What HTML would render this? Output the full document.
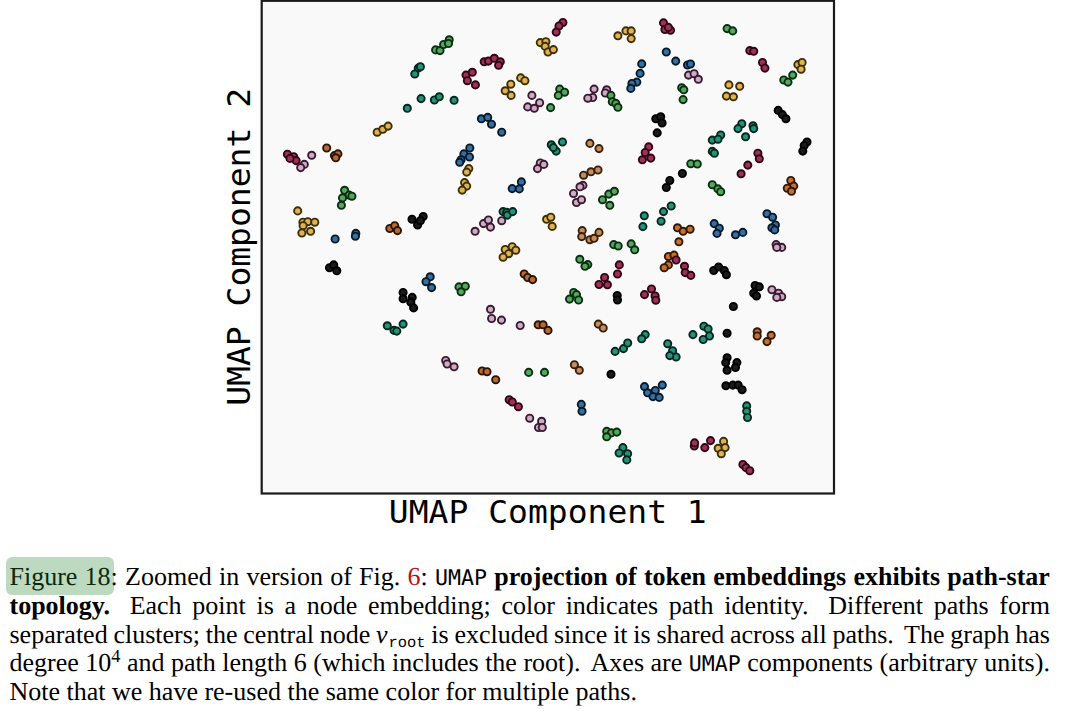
<!DOCTYPE html>
<html><head><meta charset="utf-8"><title>Figure 18</title>
<style>
html,body{margin:0;padding:0;background:#fff;}
body{width:1080px;height:713px;overflow:hidden;position:relative;}
#plot{position:absolute;left:0;top:0;}
.ax{font-family:"DejaVu Sans Mono",monospace;font-size:32px;fill:#000;}
#cap{text-rendering:geometricPrecision;position:absolute;left:9.5px;top:563.05px;width:1040.4px;font-family:"Liberation Serif","Times New Roman",serif;font-size:26px;line-height:28.75px;color:#000;}
#cap .ln{white-space:nowrap;text-align:justify;text-align-last:justify;height:28.75px;}
#cap .ln.last{text-align-last:left;}
#hlbox{position:absolute;left:6.4px;top:557.2px;width:107.3px;height:37.8px;border-radius:6px;background:rgba(38,128,45,0.3);}
.tt{font-family:"DejaVu Sans Mono",monospace;font-size:21.6px;}
.red{color:#b0151b;}
.xs{display:inline-block;width:5px;}
b{font-weight:bold;}
.mv{font-style:italic;font-family:"Liberation Serif",serif;}
sub{font-size:0.7em;vertical-align:-0.25em;line-height:0;}
sub.tt{font-family:"Liberation Mono",monospace;font-size:15.4px;vertical-align:-4.4px;margin-left:1px;}
sup{font-size:0.7em;vertical-align:0.5em;line-height:0;}
</style></head><body>
<svg id="plot" width="1080" height="545" viewBox="0 0 1080 545">
<rect x="261.7" y="0.8" width="572.3" height="492.7" fill="#f9f9f9" stroke="#1a1a1a" stroke-width="2.2"/>
<g stroke-width="1.9">
<circle cx="435.6" cy="49.9" r="3.6" fill="#58a462" stroke="#08300f"/>
<circle cx="440.0" cy="50.6" r="3.6" fill="#58a462" stroke="#08300f"/>
<circle cx="443.6" cy="44.5" r="3.6" fill="#58a462" stroke="#08300f"/>
<circle cx="449.2" cy="39.8" r="3.6" fill="#58a462" stroke="#08300f"/>
<circle cx="448.5" cy="43.5" r="3.6" fill="#58a462" stroke="#08300f"/>
<circle cx="418.3" cy="68.1" r="3.6" fill="#26927a" stroke="#04281c"/>
<circle cx="420.4" cy="66.7" r="3.6" fill="#26927a" stroke="#04281c"/>
<circle cx="414.8" cy="74.0" r="3.6" fill="#26927a" stroke="#04281c"/>
<circle cx="484.2" cy="61.8" r="3.6" fill="#9c3259" stroke="#300612"/>
<circle cx="488.4" cy="61.1" r="3.6" fill="#9c3259" stroke="#300612"/>
<circle cx="494.3" cy="58.3" r="3.6" fill="#9c3259" stroke="#300612"/>
<circle cx="500.3" cy="61.8" r="3.6" fill="#9c3259" stroke="#300612"/>
<circle cx="498.6" cy="65.3" r="3.6" fill="#9c3259" stroke="#300612"/>
<circle cx="466.0" cy="75.1" r="3.6" fill="#9c3259" stroke="#300612"/>
<circle cx="472.3" cy="72.3" r="3.6" fill="#9c3259" stroke="#300612"/>
<circle cx="467.4" cy="80.7" r="3.6" fill="#9c3259" stroke="#300612"/>
<circle cx="475.4" cy="84.9" r="3.6" fill="#9c3259" stroke="#300612"/>
<circle cx="540.3" cy="42.6" r="3.6" fill="#deb352" stroke="#3e2e06"/>
<circle cx="545.9" cy="41.7" r="3.6" fill="#deb352" stroke="#3e2e06"/>
<circle cx="545.2" cy="46.4" r="3.6" fill="#deb352" stroke="#3e2e06"/>
<circle cx="548.0" cy="52.0" r="3.6" fill="#deb352" stroke="#3e2e06"/>
<circle cx="553.4" cy="49.6" r="3.6" fill="#deb352" stroke="#3e2e06"/>
<circle cx="520.7" cy="77.9" r="3.6" fill="#deb352" stroke="#3e2e06"/>
<circle cx="524.9" cy="80.7" r="3.6" fill="#deb352" stroke="#3e2e06"/>
<circle cx="510.8" cy="84.2" r="3.6" fill="#deb352" stroke="#3e2e06"/>
<circle cx="505.2" cy="90.8" r="3.6" fill="#deb352" stroke="#3e2e06"/>
<circle cx="511.1" cy="95.4" r="3.6" fill="#deb352" stroke="#3e2e06"/>
<circle cx="531.9" cy="95.4" r="3.6" fill="#cdacc2" stroke="#3a1a32"/>
<circle cx="421.1" cy="98.6" r="3.6" fill="#26927a" stroke="#04281c"/>
<circle cx="434.4" cy="100.0" r="3.6" fill="#26927a" stroke="#04281c"/>
<circle cx="439.3" cy="96.8" r="3.6" fill="#26927a" stroke="#04281c"/>
<circle cx="454.1" cy="100.3" r="3.6" fill="#26927a" stroke="#04281c"/>
<circle cx="562.9" cy="22.5" r="3.6" fill="#9c3259" stroke="#300612"/>
<circle cx="559.0" cy="26.0" r="3.6" fill="#9c3259" stroke="#300612"/>
<circle cx="556.2" cy="32.1" r="3.6" fill="#9c3259" stroke="#300612"/>
<circle cx="617.9" cy="35.8" r="3.6" fill="#deb352" stroke="#3e2e06"/>
<circle cx="626.0" cy="30.9" r="3.6" fill="#deb352" stroke="#3e2e06"/>
<circle cx="631.2" cy="30.9" r="3.6" fill="#deb352" stroke="#3e2e06"/>
<circle cx="631.2" cy="38.6" r="3.6" fill="#deb352" stroke="#3e2e06"/>
<circle cx="663.5" cy="22.9" r="3.6" fill="#9c3259" stroke="#300612"/>
<circle cx="664.9" cy="29.5" r="3.6" fill="#9c3259" stroke="#300612"/>
<circle cx="670.5" cy="30.2" r="3.6" fill="#9c3259" stroke="#300612"/>
<circle cx="668.4" cy="27.4" r="3.6" fill="#9c3259" stroke="#300612"/>
<circle cx="666.3" cy="52.0" r="3.6" fill="#3470a2" stroke="#081a2a"/>
<circle cx="675.7" cy="61.1" r="3.6" fill="#3470a2" stroke="#081a2a"/>
<circle cx="641.7" cy="63.9" r="3.6" fill="#3470a2" stroke="#081a2a"/>
<circle cx="640.1" cy="73.4" r="3.6" fill="#3470a2" stroke="#081a2a"/>
<circle cx="636.8" cy="82.1" r="3.6" fill="#3470a2" stroke="#081a2a"/>
<circle cx="631.9" cy="83.5" r="3.6" fill="#3470a2" stroke="#081a2a"/>
<circle cx="630.8" cy="88.4" r="3.6" fill="#3470a2" stroke="#081a2a"/>
<circle cx="559.7" cy="89.1" r="3.6" fill="#58a462" stroke="#08300f"/>
<circle cx="564.6" cy="92.2" r="3.6" fill="#58a462" stroke="#08300f"/>
<circle cx="558.3" cy="95.4" r="3.6" fill="#58a462" stroke="#08300f"/>
<circle cx="594.1" cy="89.1" r="3.6" fill="#cdacc2" stroke="#3a1a32"/>
<circle cx="592.7" cy="97.5" r="3.6" fill="#cdacc2" stroke="#3a1a32"/>
<circle cx="587.8" cy="98.2" r="3.6" fill="#cdacc2" stroke="#3a1a32"/>
<circle cx="606.7" cy="89.8" r="3.6" fill="#cdacc2" stroke="#3a1a32"/>
<circle cx="605.3" cy="93.0" r="3.6" fill="#cdacc2" stroke="#3a1a32"/>
<circle cx="610.9" cy="95.4" r="3.6" fill="#58a462" stroke="#08300f"/>
<circle cx="612.3" cy="101.7" r="3.6" fill="#58a462" stroke="#08300f"/>
<circle cx="615.8" cy="103.4" r="3.6" fill="#58a462" stroke="#08300f"/>
<circle cx="617.9" cy="107.3" r="3.6" fill="#58a462" stroke="#08300f"/>
<circle cx="681.7" cy="87.7" r="3.6" fill="#58a462" stroke="#08300f"/>
<circle cx="683.8" cy="89.8" r="3.6" fill="#58a462" stroke="#08300f"/>
<circle cx="683.1" cy="99.6" r="3.6" fill="#58a462" stroke="#08300f"/>
<circle cx="727.1" cy="28.6" r="3.6" fill="#58a462" stroke="#08300f"/>
<circle cx="732.7" cy="30.9" r="3.6" fill="#58a462" stroke="#08300f"/>
<circle cx="749.8" cy="50.6" r="3.6" fill="#9c3259" stroke="#300612"/>
<circle cx="753.7" cy="51.3" r="3.6" fill="#9c3259" stroke="#300612"/>
<circle cx="762.5" cy="62.5" r="3.6" fill="#9c3259" stroke="#300612"/>
<circle cx="764.9" cy="68.1" r="3.6" fill="#9c3259" stroke="#300612"/>
<circle cx="797.9" cy="64.6" r="3.6" fill="#deb352" stroke="#3e2e06"/>
<circle cx="802.1" cy="62.5" r="3.6" fill="#deb352" stroke="#3e2e06"/>
<circle cx="801.1" cy="69.2" r="3.6" fill="#deb352" stroke="#3e2e06"/>
<circle cx="783.8" cy="80.0" r="3.6" fill="#58a462" stroke="#08300f"/>
<circle cx="788.0" cy="82.1" r="3.6" fill="#58a462" stroke="#08300f"/>
<circle cx="792.7" cy="75.1" r="3.6" fill="#58a462" stroke="#08300f"/>
<circle cx="728.9" cy="84.9" r="3.6" fill="#deb352" stroke="#3e2e06"/>
<circle cx="739.7" cy="86.3" r="3.6" fill="#deb352" stroke="#3e2e06"/>
<circle cx="726.4" cy="96.1" r="3.6" fill="#deb352" stroke="#3e2e06"/>
<circle cx="733.4" cy="96.8" r="3.6" fill="#deb352" stroke="#3e2e06"/>
<circle cx="687.5" cy="65.0" r="3.6" fill="#3470a2" stroke="#081a2a"/>
<circle cx="690.5" cy="64.0" r="3.6" fill="#3470a2" stroke="#081a2a"/>
<circle cx="688.5" cy="75.1" r="3.6" fill="#cdacc2" stroke="#3a1a32"/>
<circle cx="694.1" cy="73.7" r="3.6" fill="#cdacc2" stroke="#3a1a32"/>
<circle cx="698.3" cy="79.3" r="3.6" fill="#cdacc2" stroke="#3a1a32"/>
<circle cx="407.3" cy="108.3" r="3.6" fill="#26927a" stroke="#04281c"/>
<circle cx="377.2" cy="132.2" r="3.6" fill="#deb352" stroke="#3e2e06"/>
<circle cx="382.8" cy="129.3" r="3.6" fill="#deb352" stroke="#3e2e06"/>
<circle cx="388.1" cy="126.1" r="3.6" fill="#deb352" stroke="#3e2e06"/>
<circle cx="326.7" cy="148.0" r="3.6" fill="#b46c36" stroke="#2a1404"/>
<circle cx="334.4" cy="155.6" r="3.6" fill="#b46c36" stroke="#2a1404"/>
<circle cx="337.9" cy="153.9" r="3.6" fill="#b46c36" stroke="#2a1404"/>
<circle cx="335.8" cy="157.8" r="3.6" fill="#b46c36" stroke="#2a1404"/>
<circle cx="311.7" cy="155.3" r="3.6" fill="#cdacc2" stroke="#3a1a32"/>
<circle cx="287.4" cy="154.2" r="3.6" fill="#9c3259" stroke="#300612"/>
<circle cx="293.7" cy="156.7" r="3.6" fill="#9c3259" stroke="#300612"/>
<circle cx="296.1" cy="160.6" r="3.6" fill="#9c3259" stroke="#300612"/>
<circle cx="290.0" cy="158.4" r="3.6" fill="#9c3259" stroke="#300612"/>
<circle cx="304.3" cy="164.4" r="3.6" fill="#cdacc2" stroke="#3a1a32"/>
<circle cx="300.7" cy="167.6" r="3.6" fill="#cdacc2" stroke="#3a1a32"/>
<circle cx="539.6" cy="102.7" r="3.6" fill="#cdacc2" stroke="#3a1a32"/>
<circle cx="527.7" cy="106.9" r="3.6" fill="#cdacc2" stroke="#3a1a32"/>
<circle cx="534.3" cy="108.3" r="3.6" fill="#cdacc2" stroke="#3a1a32"/>
<circle cx="481.4" cy="118.8" r="3.6" fill="#3470a2" stroke="#081a2a"/>
<circle cx="487.7" cy="117.4" r="3.6" fill="#3470a2" stroke="#081a2a"/>
<circle cx="491.5" cy="124.2" r="3.6" fill="#3470a2" stroke="#081a2a"/>
<circle cx="501.7" cy="132.2" r="3.6" fill="#3470a2" stroke="#081a2a"/>
<circle cx="469.8" cy="148.0" r="3.6" fill="#3470a2" stroke="#081a2a"/>
<circle cx="463.9" cy="153.9" r="3.6" fill="#3470a2" stroke="#081a2a"/>
<circle cx="469.5" cy="157.0" r="3.6" fill="#3470a2" stroke="#081a2a"/>
<circle cx="461.1" cy="159.8" r="3.6" fill="#3470a2" stroke="#081a2a"/>
<circle cx="459.7" cy="162.3" r="3.6" fill="#3470a2" stroke="#081a2a"/>
<circle cx="468.8" cy="168.6" r="3.6" fill="#deb352" stroke="#3e2e06"/>
<circle cx="466.7" cy="172.1" r="3.6" fill="#deb352" stroke="#3e2e06"/>
<circle cx="464.6" cy="182.6" r="3.6" fill="#deb352" stroke="#3e2e06"/>
<circle cx="466.7" cy="186.1" r="3.6" fill="#deb352" stroke="#3e2e06"/>
<circle cx="462.2" cy="190.1" r="3.6" fill="#deb352" stroke="#3e2e06"/>
<circle cx="521.4" cy="181.9" r="3.6" fill="#3470a2" stroke="#081a2a"/>
<circle cx="512.2" cy="188.6" r="3.6" fill="#3470a2" stroke="#081a2a"/>
<circle cx="519.3" cy="188.9" r="3.6" fill="#3470a2" stroke="#081a2a"/>
<circle cx="540.3" cy="163.0" r="3.6" fill="#cdacc2" stroke="#3a1a32"/>
<circle cx="543.8" cy="164.4" r="3.6" fill="#cdacc2" stroke="#3a1a32"/>
<circle cx="537.5" cy="168.6" r="3.6" fill="#cdacc2" stroke="#3a1a32"/>
<circle cx="550.6" cy="107.6" r="3.6" fill="#58a462" stroke="#08300f"/>
<circle cx="655.8" cy="118.8" r="3.6" fill="#1a1a1a" stroke="#000000"/>
<circle cx="660.7" cy="116.7" r="3.6" fill="#1a1a1a" stroke="#000000"/>
<circle cx="662.1" cy="123.0" r="3.6" fill="#1a1a1a" stroke="#000000"/>
<circle cx="657.2" cy="132.9" r="3.6" fill="#1a1a1a" stroke="#000000"/>
<circle cx="551.3" cy="144.8" r="3.6" fill="#26927a" stroke="#04281c"/>
<circle cx="556.2" cy="151.1" r="3.6" fill="#26927a" stroke="#04281c"/>
<circle cx="562.5" cy="142.0" r="3.6" fill="#26927a" stroke="#04281c"/>
<circle cx="553.4" cy="147.6" r="3.6" fill="#26927a" stroke="#04281c"/>
<circle cx="589.9" cy="143.4" r="3.6" fill="#c48e60" stroke="#3a200a"/>
<circle cx="599.0" cy="148.6" r="3.6" fill="#c48e60" stroke="#3a200a"/>
<circle cx="648.7" cy="146.9" r="3.6" fill="#9c3259" stroke="#300612"/>
<circle cx="645.2" cy="152.5" r="3.6" fill="#9c3259" stroke="#300612"/>
<circle cx="650.8" cy="158.1" r="3.6" fill="#9c3259" stroke="#300612"/>
<circle cx="642.4" cy="159.8" r="3.6" fill="#9c3259" stroke="#300612"/>
<circle cx="583.6" cy="175.2" r="3.6" fill="#c48e60" stroke="#3a200a"/>
<circle cx="591.0" cy="171.8" r="3.6" fill="#c48e60" stroke="#3a200a"/>
<circle cx="598.0" cy="170.0" r="3.6" fill="#c48e60" stroke="#3a200a"/>
<circle cx="582.9" cy="185.4" r="3.6" fill="#cdacc2" stroke="#3a1a32"/>
<circle cx="580.0" cy="186.8" r="3.6" fill="#cdacc2" stroke="#3a1a32"/>
<circle cx="573.5" cy="193.5" r="3.6" fill="#cdacc2" stroke="#3a1a32"/>
<circle cx="576.5" cy="202.5" r="3.6" fill="#cdacc2" stroke="#3a1a32"/>
<circle cx="581.5" cy="199.7" r="3.6" fill="#cdacc2" stroke="#3a1a32"/>
<circle cx="690.8" cy="163.7" r="3.6" fill="#58a462" stroke="#08300f"/>
<circle cx="697.3" cy="164.0" r="3.6" fill="#58a462" stroke="#08300f"/>
<circle cx="682.4" cy="173.5" r="3.6" fill="#1a1a1a" stroke="#000000"/>
<circle cx="669.8" cy="180.5" r="3.6" fill="#1a1a1a" stroke="#000000"/>
<circle cx="666.3" cy="187.5" r="3.6" fill="#1a1a1a" stroke="#000000"/>
<circle cx="778.2" cy="110.4" r="3.6" fill="#1a1a1a" stroke="#000000"/>
<circle cx="782.4" cy="114.6" r="3.6" fill="#1a1a1a" stroke="#000000"/>
<circle cx="785.9" cy="118.8" r="3.6" fill="#1a1a1a" stroke="#000000"/>
<circle cx="807.0" cy="142.0" r="3.6" fill="#1a1a1a" stroke="#000000"/>
<circle cx="804.2" cy="145.5" r="3.6" fill="#1a1a1a" stroke="#000000"/>
<circle cx="802.8" cy="151.1" r="3.6" fill="#1a1a1a" stroke="#000000"/>
<circle cx="741.8" cy="123.7" r="3.6" fill="#26927a" stroke="#04281c"/>
<circle cx="738.0" cy="128.6" r="3.6" fill="#26927a" stroke="#04281c"/>
<circle cx="753.0" cy="125.8" r="3.6" fill="#26927a" stroke="#04281c"/>
<circle cx="753.7" cy="128.6" r="3.6" fill="#26927a" stroke="#04281c"/>
<circle cx="745.6" cy="136.8" r="3.6" fill="#26927a" stroke="#04281c"/>
<circle cx="720.7" cy="135.0" r="3.6" fill="#26927a" stroke="#04281c"/>
<circle cx="712.3" cy="140.1" r="3.6" fill="#26927a" stroke="#04281c"/>
<circle cx="718.0" cy="139.2" r="3.6" fill="#26927a" stroke="#04281c"/>
<circle cx="712.3" cy="151.4" r="3.6" fill="#26927a" stroke="#04281c"/>
<circle cx="714.4" cy="153.2" r="3.6" fill="#26927a" stroke="#04281c"/>
<circle cx="757.9" cy="153.2" r="3.6" fill="#9c3259" stroke="#300612"/>
<circle cx="759.3" cy="158.8" r="3.6" fill="#9c3259" stroke="#300612"/>
<circle cx="747.8" cy="165.1" r="3.6" fill="#9c3259" stroke="#300612"/>
<circle cx="741.1" cy="173.8" r="3.6" fill="#9c3259" stroke="#300612"/>
<circle cx="790.8" cy="180.5" r="3.6" fill="#c47232" stroke="#351804"/>
<circle cx="793.7" cy="186.1" r="3.6" fill="#c47232" stroke="#351804"/>
<circle cx="787.3" cy="188.2" r="3.6" fill="#c47232" stroke="#351804"/>
<circle cx="791.5" cy="191.3" r="3.6" fill="#c47232" stroke="#351804"/>
<circle cx="712.3" cy="184.7" r="3.6" fill="#58a462" stroke="#08300f"/>
<circle cx="717.9" cy="188.9" r="3.6" fill="#58a462" stroke="#08300f"/>
<circle cx="720.7" cy="191.7" r="3.6" fill="#58a462" stroke="#08300f"/>
<circle cx="344.6" cy="190.3" r="3.6" fill="#58a462" stroke="#08300f"/>
<circle cx="349.1" cy="195.1" r="3.6" fill="#58a462" stroke="#08300f"/>
<circle cx="351.9" cy="196.2" r="3.6" fill="#58a462" stroke="#08300f"/>
<circle cx="342.5" cy="197.9" r="3.6" fill="#58a462" stroke="#08300f"/>
<circle cx="341.4" cy="205.3" r="3.6" fill="#58a462" stroke="#08300f"/>
<circle cx="297.7" cy="210.9" r="3.6" fill="#deb352" stroke="#3e2e06"/>
<circle cx="302.9" cy="222.2" r="3.6" fill="#deb352" stroke="#3e2e06"/>
<circle cx="307.8" cy="221.7" r="3.6" fill="#deb352" stroke="#3e2e06"/>
<circle cx="314.8" cy="222.2" r="3.6" fill="#deb352" stroke="#3e2e06"/>
<circle cx="303.1" cy="225.7" r="3.6" fill="#deb352" stroke="#3e2e06"/>
<circle cx="301.9" cy="233.0" r="3.6" fill="#deb352" stroke="#3e2e06"/>
<circle cx="310.6" cy="231.3" r="3.6" fill="#deb352" stroke="#3e2e06"/>
<circle cx="335.1" cy="239.0" r="3.6" fill="#3470a2" stroke="#081a2a"/>
<circle cx="355.8" cy="233.4" r="3.6" fill="#3470a2" stroke="#081a2a"/>
<circle cx="355.4" cy="236.2" r="3.6" fill="#3470a2" stroke="#081a2a"/>
<circle cx="389.8" cy="228.5" r="3.6" fill="#b46c36" stroke="#2a1404"/>
<circle cx="394.7" cy="225.7" r="3.6" fill="#b46c36" stroke="#2a1404"/>
<circle cx="397.5" cy="230.6" r="3.6" fill="#b46c36" stroke="#2a1404"/>
<circle cx="329.5" cy="267.7" r="3.6" fill="#1a1a1a" stroke="#000000"/>
<circle cx="333.7" cy="264.9" r="3.6" fill="#1a1a1a" stroke="#000000"/>
<circle cx="336.8" cy="270.8" r="3.6" fill="#1a1a1a" stroke="#000000"/>
<circle cx="412.0" cy="219.3" r="3.6" fill="#1a1a1a" stroke="#000000"/>
<circle cx="417.6" cy="225.0" r="3.6" fill="#1a1a1a" stroke="#000000"/>
<circle cx="423.2" cy="216.5" r="3.6" fill="#1a1a1a" stroke="#000000"/>
<circle cx="420.4" cy="220.7" r="3.6" fill="#1a1a1a" stroke="#000000"/>
<circle cx="475.1" cy="231.3" r="3.6" fill="#cdacc2" stroke="#3a1a32"/>
<circle cx="483.5" cy="223.6" r="3.6" fill="#cdacc2" stroke="#3a1a32"/>
<circle cx="488.4" cy="220.0" r="3.6" fill="#cdacc2" stroke="#3a1a32"/>
<circle cx="490.5" cy="227.1" r="3.6" fill="#cdacc2" stroke="#3a1a32"/>
<circle cx="501.7" cy="220.7" r="3.6" fill="#cdacc2" stroke="#3a1a32"/>
<circle cx="503.1" cy="211.6" r="3.6" fill="#26927a" stroke="#04281c"/>
<circle cx="506.6" cy="212.3" r="3.6" fill="#26927a" stroke="#04281c"/>
<circle cx="507.3" cy="215.1" r="3.6" fill="#26927a" stroke="#04281c"/>
<circle cx="512.7" cy="211.6" r="3.6" fill="#26927a" stroke="#04281c"/>
<circle cx="546.6" cy="219.3" r="3.6" fill="#deb352" stroke="#3e2e06"/>
<circle cx="550.8" cy="217.2" r="3.6" fill="#deb352" stroke="#3e2e06"/>
<circle cx="552.2" cy="226.4" r="3.6" fill="#deb352" stroke="#3e2e06"/>
<circle cx="505.2" cy="249.5" r="3.6" fill="#deb352" stroke="#3e2e06"/>
<circle cx="512.2" cy="246.7" r="3.6" fill="#deb352" stroke="#3e2e06"/>
<circle cx="515.8" cy="250.2" r="3.6" fill="#deb352" stroke="#3e2e06"/>
<circle cx="508.7" cy="253.7" r="3.6" fill="#deb352" stroke="#3e2e06"/>
<circle cx="503.1" cy="257.2" r="3.6" fill="#deb352" stroke="#3e2e06"/>
<circle cx="524.2" cy="274.0" r="3.6" fill="#b46c36" stroke="#2a1404"/>
<circle cx="527.7" cy="277.5" r="3.6" fill="#b46c36" stroke="#2a1404"/>
<circle cx="532.6" cy="279.6" r="3.6" fill="#b46c36" stroke="#2a1404"/>
<circle cx="430.2" cy="276.8" r="3.6" fill="#3470a2" stroke="#081a2a"/>
<circle cx="426.0" cy="281.7" r="3.6" fill="#3470a2" stroke="#081a2a"/>
<circle cx="431.6" cy="287.6" r="3.6" fill="#3470a2" stroke="#081a2a"/>
<circle cx="608.8" cy="194.1" r="3.6" fill="#58a462" stroke="#08300f"/>
<circle cx="614.4" cy="191.3" r="3.6" fill="#58a462" stroke="#08300f"/>
<circle cx="602.5" cy="199.7" r="3.6" fill="#58a462" stroke="#08300f"/>
<circle cx="609.8" cy="205.3" r="3.6" fill="#58a462" stroke="#08300f"/>
<circle cx="582.2" cy="230.6" r="3.6" fill="#c48e60" stroke="#3a200a"/>
<circle cx="581.7" cy="236.6" r="3.6" fill="#c48e60" stroke="#3a200a"/>
<circle cx="589.9" cy="239.7" r="3.6" fill="#c48e60" stroke="#3a200a"/>
<circle cx="594.1" cy="238.3" r="3.6" fill="#c48e60" stroke="#3a200a"/>
<circle cx="599.0" cy="232.4" r="3.6" fill="#c48e60" stroke="#3a200a"/>
<circle cx="644.3" cy="215.8" r="3.6" fill="#26927a" stroke="#04281c"/>
<circle cx="642.9" cy="226.6" r="3.6" fill="#26927a" stroke="#04281c"/>
<circle cx="663.5" cy="211.6" r="3.6" fill="#26927a" stroke="#04281c"/>
<circle cx="671.2" cy="206.0" r="3.6" fill="#26927a" stroke="#04281c"/>
<circle cx="661.1" cy="221.2" r="3.6" fill="#26927a" stroke="#04281c"/>
<circle cx="677.5" cy="227.8" r="3.6" fill="#c47232" stroke="#351804"/>
<circle cx="683.1" cy="231.3" r="3.6" fill="#c47232" stroke="#351804"/>
<circle cx="690.1" cy="229.2" r="3.6" fill="#c47232" stroke="#351804"/>
<circle cx="678.9" cy="241.8" r="3.6" fill="#c47232" stroke="#351804"/>
<circle cx="613.7" cy="244.6" r="3.6" fill="#58a462" stroke="#08300f"/>
<circle cx="618.2" cy="246.0" r="3.6" fill="#58a462" stroke="#08300f"/>
<circle cx="631.2" cy="243.9" r="3.6" fill="#58a462" stroke="#08300f"/>
<circle cx="634.7" cy="249.8" r="3.6" fill="#58a462" stroke="#08300f"/>
<circle cx="579.8" cy="259.3" r="3.6" fill="#58a462" stroke="#08300f"/>
<circle cx="587.8" cy="264.6" r="3.6" fill="#58a462" stroke="#08300f"/>
<circle cx="585.0" cy="266.3" r="3.6" fill="#58a462" stroke="#08300f"/>
<circle cx="619.3" cy="264.9" r="3.6" fill="#9c3259" stroke="#300612"/>
<circle cx="617.5" cy="274.0" r="3.6" fill="#9c3259" stroke="#300612"/>
<circle cx="604.6" cy="277.5" r="3.6" fill="#9c3259" stroke="#300612"/>
<circle cx="607.4" cy="284.8" r="3.6" fill="#9c3259" stroke="#300612"/>
<circle cx="599.0" cy="284.5" r="3.6" fill="#9c3259" stroke="#300612"/>
<circle cx="668.4" cy="256.5" r="3.6" fill="#c47232" stroke="#351804"/>
<circle cx="674.0" cy="255.1" r="3.6" fill="#c47232" stroke="#351804"/>
<circle cx="676.1" cy="260.0" r="3.6" fill="#9c3259" stroke="#300612"/>
<circle cx="668.4" cy="264.9" r="3.6" fill="#c47232" stroke="#351804"/>
<circle cx="664.2" cy="267.7" r="3.6" fill="#c47232" stroke="#351804"/>
<circle cx="684.5" cy="266.3" r="3.6" fill="#9c3259" stroke="#300612"/>
<circle cx="685.2" cy="272.6" r="3.6" fill="#9c3259" stroke="#300612"/>
<circle cx="690.8" cy="275.4" r="3.6" fill="#9c3259" stroke="#300612"/>
<circle cx="714.2" cy="223.6" r="3.6" fill="#3470a2" stroke="#081a2a"/>
<circle cx="719.3" cy="228.2" r="3.6" fill="#3470a2" stroke="#081a2a"/>
<circle cx="717.0" cy="233.4" r="3.6" fill="#3470a2" stroke="#081a2a"/>
<circle cx="735.5" cy="234.8" r="3.6" fill="#3470a2" stroke="#081a2a"/>
<circle cx="742.8" cy="232.4" r="3.6" fill="#3470a2" stroke="#081a2a"/>
<circle cx="767.0" cy="213.7" r="3.6" fill="#3470a2" stroke="#081a2a"/>
<circle cx="772.6" cy="217.2" r="3.6" fill="#3470a2" stroke="#081a2a"/>
<circle cx="775.4" cy="225.0" r="3.6" fill="#3470a2" stroke="#081a2a"/>
<circle cx="771.9" cy="227.8" r="3.6" fill="#3470a2" stroke="#081a2a"/>
<circle cx="774.7" cy="229.9" r="3.6" fill="#3470a2" stroke="#081a2a"/>
<circle cx="776.1" cy="244.6" r="3.6" fill="#cdacc2" stroke="#3a1a32"/>
<circle cx="781.7" cy="247.4" r="3.6" fill="#cdacc2" stroke="#3a1a32"/>
<circle cx="776.8" cy="247.4" r="3.6" fill="#cdacc2" stroke="#3a1a32"/>
<circle cx="713.7" cy="270.5" r="3.6" fill="#1a1a1a" stroke="#000000"/>
<circle cx="718.6" cy="267.0" r="3.6" fill="#1a1a1a" stroke="#000000"/>
<circle cx="724.3" cy="270.5" r="3.6" fill="#1a1a1a" stroke="#000000"/>
<circle cx="726.4" cy="274.7" r="3.6" fill="#1a1a1a" stroke="#000000"/>
<circle cx="403.1" cy="292.5" r="3.6" fill="#1a1a1a" stroke="#000000"/>
<circle cx="403.1" cy="298.8" r="3.6" fill="#1a1a1a" stroke="#000000"/>
<circle cx="412.2" cy="297.4" r="3.6" fill="#1a1a1a" stroke="#000000"/>
<circle cx="410.8" cy="302.3" r="3.6" fill="#1a1a1a" stroke="#000000"/>
<circle cx="413.6" cy="307.9" r="3.6" fill="#1a1a1a" stroke="#000000"/>
<circle cx="387.3" cy="325.8" r="3.6" fill="#26927a" stroke="#04281c"/>
<circle cx="394.0" cy="330.4" r="3.6" fill="#26927a" stroke="#04281c"/>
<circle cx="396.8" cy="331.1" r="3.6" fill="#26927a" stroke="#04281c"/>
<circle cx="403.1" cy="324.1" r="3.6" fill="#26927a" stroke="#04281c"/>
<circle cx="459.0" cy="286.9" r="3.6" fill="#58a462" stroke="#08300f"/>
<circle cx="465.3" cy="286.2" r="3.6" fill="#58a462" stroke="#08300f"/>
<circle cx="461.1" cy="291.8" r="3.6" fill="#58a462" stroke="#08300f"/>
<circle cx="490.5" cy="309.3" r="3.6" fill="#cdacc2" stroke="#3a1a32"/>
<circle cx="491.6" cy="318.5" r="3.6" fill="#cdacc2" stroke="#3a1a32"/>
<circle cx="501.5" cy="320.1" r="3.6" fill="#cdacc2" stroke="#3a1a32"/>
<circle cx="520.2" cy="325.5" r="3.6" fill="#cdacc2" stroke="#3a1a32"/>
<circle cx="538.2" cy="324.8" r="3.6" fill="#b46c36" stroke="#2a1404"/>
<circle cx="543.1" cy="324.8" r="3.6" fill="#b46c36" stroke="#2a1404"/>
<circle cx="548.0" cy="330.4" r="3.6" fill="#b46c36" stroke="#2a1404"/>
<circle cx="445.7" cy="360.5" r="3.6" fill="#cdacc2" stroke="#3a1a32"/>
<circle cx="447.1" cy="364.0" r="3.6" fill="#cdacc2" stroke="#3a1a32"/>
<circle cx="454.1" cy="366.8" r="3.6" fill="#cdacc2" stroke="#3a1a32"/>
<circle cx="482.1" cy="371.0" r="3.6" fill="#b46c36" stroke="#2a1404"/>
<circle cx="487.0" cy="371.7" r="3.6" fill="#b46c36" stroke="#2a1404"/>
<circle cx="528.7" cy="372.4" r="3.6" fill="#58a462" stroke="#08300f"/>
<circle cx="544.5" cy="372.4" r="3.6" fill="#58a462" stroke="#08300f"/>
<circle cx="573.7" cy="292.5" r="3.6" fill="#58a462" stroke="#08300f"/>
<circle cx="576.5" cy="294.6" r="3.6" fill="#58a462" stroke="#08300f"/>
<circle cx="569.5" cy="299.1" r="3.6" fill="#58a462" stroke="#08300f"/>
<circle cx="578.6" cy="300.0" r="3.6" fill="#58a462" stroke="#08300f"/>
<circle cx="617.2" cy="295.5" r="3.6" fill="#1a1a1a" stroke="#000000"/>
<circle cx="617.5" cy="300.0" r="3.6" fill="#1a1a1a" stroke="#000000"/>
<circle cx="644.5" cy="294.6" r="3.6" fill="#9c3259" stroke="#300612"/>
<circle cx="651.5" cy="289.0" r="3.6" fill="#9c3259" stroke="#300612"/>
<circle cx="655.1" cy="296.0" r="3.6" fill="#9c3259" stroke="#300612"/>
<circle cx="655.8" cy="300.2" r="3.6" fill="#9c3259" stroke="#300612"/>
<circle cx="598.3" cy="324.1" r="3.6" fill="#c48e60" stroke="#3a200a"/>
<circle cx="603.2" cy="328.0" r="3.6" fill="#c48e60" stroke="#3a200a"/>
<circle cx="615.1" cy="351.4" r="3.6" fill="#26927a" stroke="#04281c"/>
<circle cx="623.5" cy="348.6" r="3.6" fill="#26927a" stroke="#04281c"/>
<circle cx="627.7" cy="343.0" r="3.6" fill="#26927a" stroke="#04281c"/>
<circle cx="645.2" cy="334.6" r="3.6" fill="#26927a" stroke="#04281c"/>
<circle cx="641.7" cy="338.8" r="3.6" fill="#26927a" stroke="#04281c"/>
<circle cx="667.7" cy="343.7" r="3.6" fill="#26927a" stroke="#04281c"/>
<circle cx="672.6" cy="350.7" r="3.6" fill="#26927a" stroke="#04281c"/>
<circle cx="676.1" cy="357.0" r="3.6" fill="#26927a" stroke="#04281c"/>
<circle cx="669.8" cy="355.6" r="3.6" fill="#26927a" stroke="#04281c"/>
<circle cx="692.9" cy="334.6" r="3.6" fill="#26927a" stroke="#04281c"/>
<circle cx="574.4" cy="364.7" r="3.6" fill="#c48e60" stroke="#3a200a"/>
<circle cx="579.3" cy="370.3" r="3.6" fill="#c48e60" stroke="#3a200a"/>
<circle cx="611.0" cy="374.3" r="3.6" fill="#1a1a1a" stroke="#000000"/>
<circle cx="755.1" cy="285.5" r="3.6" fill="#1a1a1a" stroke="#000000"/>
<circle cx="759.3" cy="286.9" r="3.6" fill="#1a1a1a" stroke="#000000"/>
<circle cx="753.7" cy="293.2" r="3.6" fill="#1a1a1a" stroke="#000000"/>
<circle cx="756.5" cy="296.0" r="3.6" fill="#1a1a1a" stroke="#000000"/>
<circle cx="771.9" cy="289.7" r="3.6" fill="#cdacc2" stroke="#3a1a32"/>
<circle cx="778.6" cy="293.2" r="3.6" fill="#cdacc2" stroke="#3a1a32"/>
<circle cx="781.7" cy="296.7" r="3.6" fill="#cdacc2" stroke="#3a1a32"/>
<circle cx="776.8" cy="297.4" r="3.6" fill="#cdacc2" stroke="#3a1a32"/>
<circle cx="733.4" cy="306.5" r="3.6" fill="#1a1a1a" stroke="#000000"/>
<circle cx="703.9" cy="326.2" r="3.6" fill="#26927a" stroke="#04281c"/>
<circle cx="708.1" cy="329.0" r="3.6" fill="#26927a" stroke="#04281c"/>
<circle cx="709.5" cy="336.0" r="3.6" fill="#26927a" stroke="#04281c"/>
<circle cx="703.2" cy="339.5" r="3.6" fill="#26927a" stroke="#04281c"/>
<circle cx="727.1" cy="333.2" r="3.6" fill="#1a1a1a" stroke="#000000"/>
<circle cx="757.2" cy="331.8" r="3.6" fill="#c47232" stroke="#351804"/>
<circle cx="757.2" cy="336.0" r="3.6" fill="#c47232" stroke="#351804"/>
<circle cx="771.2" cy="335.3" r="3.6" fill="#c47232" stroke="#351804"/>
<circle cx="767.0" cy="341.6" r="3.6" fill="#c47232" stroke="#351804"/>
<circle cx="727.1" cy="357.7" r="3.6" fill="#1a1a1a" stroke="#000000"/>
<circle cx="736.9" cy="362.6" r="3.6" fill="#1a1a1a" stroke="#000000"/>
<circle cx="725.7" cy="362.6" r="3.6" fill="#1a1a1a" stroke="#000000"/>
<circle cx="727.1" cy="370.3" r="3.6" fill="#1a1a1a" stroke="#000000"/>
<circle cx="735.5" cy="367.5" r="3.6" fill="#1a1a1a" stroke="#000000"/>
<circle cx="495.7" cy="379.7" r="3.6" fill="#b46c36" stroke="#2a1404"/>
<circle cx="509.2" cy="399.7" r="3.6" fill="#9c3259" stroke="#300612"/>
<circle cx="512.3" cy="402.0" r="3.6" fill="#9c3259" stroke="#300612"/>
<circle cx="518.4" cy="406.7" r="3.6" fill="#9c3259" stroke="#300612"/>
<circle cx="529.7" cy="418.2" r="3.6" fill="#cdacc2" stroke="#3a1a32"/>
<circle cx="541.6" cy="421.3" r="3.6" fill="#cdacc2" stroke="#3a1a32"/>
<circle cx="538.5" cy="427.5" r="3.6" fill="#cdacc2" stroke="#3a1a32"/>
<circle cx="542.3" cy="427.5" r="3.6" fill="#cdacc2" stroke="#3a1a32"/>
<circle cx="644.5" cy="386.6" r="3.6" fill="#3470a2" stroke="#081a2a"/>
<circle cx="647.6" cy="392.8" r="3.6" fill="#3470a2" stroke="#081a2a"/>
<circle cx="655.3" cy="390.5" r="3.6" fill="#3470a2" stroke="#081a2a"/>
<circle cx="662.3" cy="385.1" r="3.6" fill="#3470a2" stroke="#081a2a"/>
<circle cx="653.0" cy="396.6" r="3.6" fill="#3470a2" stroke="#081a2a"/>
<circle cx="659.2" cy="397.4" r="3.6" fill="#3470a2" stroke="#081a2a"/>
<circle cx="581.3" cy="404.4" r="3.6" fill="#3470a2" stroke="#081a2a"/>
<circle cx="582.0" cy="411.3" r="3.6" fill="#3470a2" stroke="#081a2a"/>
<circle cx="606.7" cy="431.4" r="3.6" fill="#58a462" stroke="#08300f"/>
<circle cx="611.4" cy="432.9" r="3.6" fill="#58a462" stroke="#08300f"/>
<circle cx="616.8" cy="432.1" r="3.6" fill="#58a462" stroke="#08300f"/>
<circle cx="606.7" cy="436.8" r="3.6" fill="#58a462" stroke="#08300f"/>
<circle cx="622.9" cy="447.6" r="3.6" fill="#26927a" stroke="#04281c"/>
<circle cx="619.1" cy="453.0" r="3.6" fill="#26927a" stroke="#04281c"/>
<circle cx="627.6" cy="453.7" r="3.6" fill="#26927a" stroke="#04281c"/>
<circle cx="626.8" cy="459.9" r="3.6" fill="#26927a" stroke="#04281c"/>
<circle cx="725.9" cy="385.8" r="3.6" fill="#1a1a1a" stroke="#000000"/>
<circle cx="732.8" cy="385.1" r="3.6" fill="#1a1a1a" stroke="#000000"/>
<circle cx="738.2" cy="385.1" r="3.6" fill="#1a1a1a" stroke="#000000"/>
<circle cx="742.1" cy="389.7" r="3.6" fill="#1a1a1a" stroke="#000000"/>
<circle cx="746.7" cy="405.9" r="3.6" fill="#26927a" stroke="#04281c"/>
<circle cx="746.7" cy="411.3" r="3.6" fill="#26927a" stroke="#04281c"/>
<circle cx="747.5" cy="417.5" r="3.6" fill="#26927a" stroke="#04281c"/>
<circle cx="694.3" cy="446.0" r="3.6" fill="#9c3259" stroke="#300612"/>
<circle cx="694.6" cy="442.9" r="3.6" fill="#9c3259" stroke="#300612"/>
<circle cx="704.8" cy="447.6" r="3.6" fill="#9c3259" stroke="#300612"/>
<circle cx="710.5" cy="440.6" r="3.6" fill="#9c3259" stroke="#300612"/>
<circle cx="723.6" cy="441.4" r="3.6" fill="#deb352" stroke="#3e2e06"/>
<circle cx="718.2" cy="448.3" r="3.6" fill="#deb352" stroke="#3e2e06"/>
<circle cx="725.1" cy="447.6" r="3.6" fill="#deb352" stroke="#3e2e06"/>
<circle cx="721.3" cy="453.7" r="3.6" fill="#deb352" stroke="#3e2e06"/>
<circle cx="742.9" cy="464.5" r="3.6" fill="#9c3259" stroke="#300612"/>
<circle cx="746.0" cy="467.6" r="3.6" fill="#9c3259" stroke="#300612"/>
<circle cx="749.8" cy="470.7" r="3.6" fill="#9c3259" stroke="#300612"/>
</g>
<text class="ax" x="547.8" y="523.4" text-anchor="middle" textLength="317.9" lengthAdjust="spacingAndGlyphs">UMAP Component 1</text>
<text class="ax" transform="translate(250.2,246.9) rotate(-90)" text-anchor="middle" textLength="317.9" lengthAdjust="spacingAndGlyphs">UMAP Component 2</text>
</svg>
<div id="cap">
<div class="ln">Figure 18: Zoomed in version of Fig. <span class="red">6</span>: <span class="tt">UMAP</span> <b>projection of token embeddings exhibits path-star</b></div>
<div class="ln"><b>topology.</b><span class="xs" style="width:9px"></span> Each point is a node embedding; color indicates path identity.<span class="xs" style="width:9px"></span> Different paths form</div>
<div class="ln" style="word-spacing:-2px">separated clusters; the central node <span class="mv">v</span><sub class="tt">root</sub> is excluded since it is shared across all paths.<span class="xs"></span> The graph has</div>
<div class="ln">degree 10<sup>4</sup> and path length 6 (which includes the root).<span class="xs"></span> Axes are <span class="tt">UMAP</span> components (arbitrary units).</div>
<div class="ln last">Note that we have re-used the same color for multiple paths.</div>
</div>
<div id="hlbox"></div>
</body></html>
